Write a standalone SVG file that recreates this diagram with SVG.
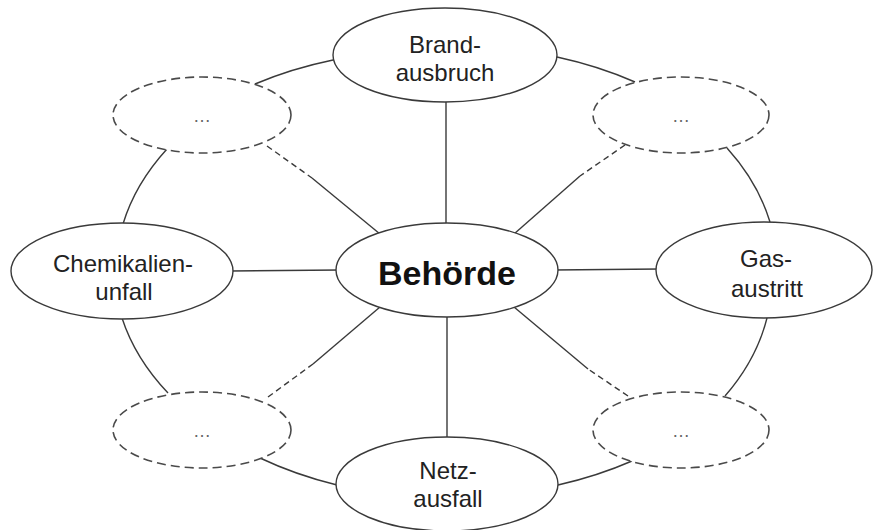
<svg xmlns="http://www.w3.org/2000/svg" width="874" height="530" viewBox="0 0 874 530">
<style>
.bg{fill:#ffffff}
.ln{fill:none;stroke:#3a3a3a;stroke-width:1.4}
.dl{fill:none;stroke:#3a3a3a;stroke-width:1.4;stroke-dasharray:6 4}
.node{fill:#ffffff;stroke:#3a3a3a;stroke-width:1.4}
.dnode{fill:#ffffff;stroke:#4a4a4a;stroke-width:1.6;stroke-dasharray:9 5}
.t{font-family:"Liberation Sans",Arial,sans-serif;font-size:24px;fill:#222;text-anchor:middle}
.tb{font-family:"Liberation Sans",Arial,sans-serif;font-size:34px;font-weight:bold;fill:#111;text-anchor:middle}
.dots{font-family:"Liberation Sans",Arial,sans-serif;font-size:18px;fill:#666;text-anchor:middle}
</style>
<rect class="bg" x="0" y="0" width="874" height="530"/>
<g id="connectors">
  <path class="ln" d="M255,84 A330,228 0 0 1 333,60"/>
  <path class="ln" d="M557,57 A330,228 0 0 1 635,82"/>
  <path class="ln" d="M727,148 A330,228 0 0 1 770,222"/>
  <path class="ln" d="M767,318 A330,228 0 0 1 725,396"/>
  <path class="ln" d="M632,461 A330,228 0 0 1 558,485"/>
  <path class="ln" d="M337,485 A330,228 0 0 1 260,458"/>
  <path class="ln" d="M168,393 A330,228 0 0 1 122,318"/>
  <path class="ln" d="M123,224 A330,228 0 0 1 167,149"/>
  <line class="ln" x1="446" y1="100" x2="446" y2="226"/>
  <line class="ln" x1="447" y1="314" x2="447" y2="440"/>
  <line class="ln" x1="230" y1="271" x2="340" y2="270"/>
  <line class="ln" x1="553" y1="270" x2="660" y2="269"/>
  <line class="dl" x1="267" y1="146" x2="312" y2="178"/>
  <line class="ln" x1="312" y1="178" x2="380" y2="234"/>
  <line class="dl" x1="625" y1="145" x2="580" y2="176"/>
  <line class="ln" x1="580" y1="176" x2="514" y2="234"/>
  <line class="dl" x1="268" y1="397" x2="313" y2="364"/>
  <line class="ln" x1="313" y1="364" x2="380" y2="307"/>
  <line class="dl" x1="628" y1="396" x2="588" y2="369"/>
  <line class="ln" x1="588" y1="369" x2="514" y2="307"/>
</g>
<g id="behoerde">
  <ellipse class="node" cx="447" cy="270" rx="111" ry="47"/>
  <text class="tb" x="447" y="285">Behörde</text>
</g>
<g id="brandausbruch">
  <ellipse class="node" cx="445" cy="55" rx="112" ry="47"/>
  <text class="t" x="445" y="53">Brand-</text>
  <text class="t" x="445" y="81">ausbruch</text>
</g>
<g id="gasaustritt">
  <ellipse class="node" cx="764" cy="270" rx="108" ry="48"/>
  <text class="t" x="766" y="267">Gas-</text>
  <text class="t" x="767" y="297">austritt</text>
</g>
<g id="netzausfall">
  <ellipse class="node" cx="447" cy="484" rx="111" ry="47"/>
  <text class="t" x="448" y="479">Netz-</text>
  <text class="t" x="448" y="507">ausfall</text>
</g>
<g id="chemikalienunfall">
  <ellipse class="node" cx="122" cy="271" rx="111" ry="48"/>
  <text class="t" x="123" y="272">Chemikalien-</text>
  <text class="t" x="124" y="300">unfall</text>
</g>
<g id="weitere-ol">
  <ellipse class="dnode" cx="202" cy="115" rx="89" ry="38"/>
  <text class="dots" x="202" y="122">…</text>
</g>
<g id="weitere-or">
  <ellipse class="dnode" cx="681" cy="115" rx="88" ry="38"/>
  <text class="dots" x="681" y="122">…</text>
</g>
<g id="weitere-ul">
  <ellipse class="dnode" cx="202" cy="430" rx="89" ry="38"/>
  <text class="dots" x="202" y="437">…</text>
</g>
<g id="weitere-ur">
  <ellipse class="dnode" cx="681" cy="430" rx="88" ry="38"/>
  <text class="dots" x="681" y="437">…</text>
</g>
</svg>
